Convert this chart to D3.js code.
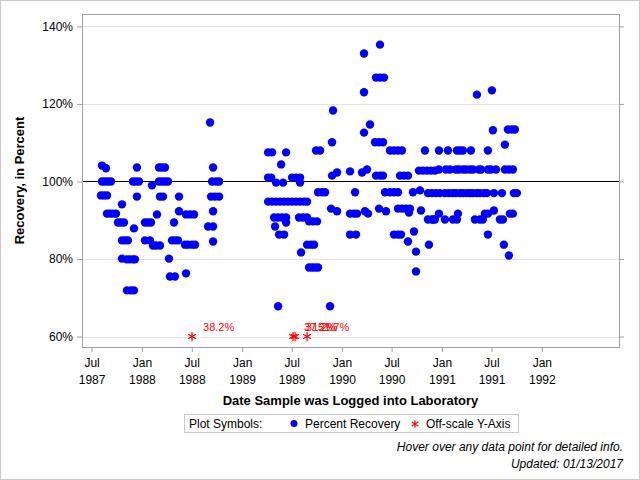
<!DOCTYPE html>
<html>
<head>
<meta charset="utf-8">
<script src="https://cdn.jsdelivr.net/npm/d3@7"></script>
<style>
  body { margin: 0; background: #fff; }
  svg { display: block; font-family: "Liberation Sans", Arial, sans-serif; }
</style>
</head>
<body>
<div id="chart"></div>
<script>
// sample log date (decimal year) and percent recovery
const samples1987 = [
  [1987.60, 104.1], [1987.64, 103.4],
  [1987.60, 100.0], [1987.63, 100.0], [1987.66, 100.0], [1987.69, 100.0],
  [1987.59, 96.4], [1987.62, 96.4], [1987.65, 96.4],
  [1987.65, 91.7], [1987.68, 91.7], [1987.71, 91.7], [1987.74, 91.7],
  [1987.80, 94.1],
  [1987.76, 89.4], [1987.79, 89.4], [1987.82, 89.4],
  [1987.80, 84.8], [1987.83, 84.8], [1987.86, 84.8],
  [1987.80, 80.1], [1987.85, 79.9], [1987.88, 79.9], [1987.91, 79.9], [1987.93, 79.9],
  [1987.85, 71.9], [1987.89, 71.9], [1987.92, 71.9],
  [1987.95, 103.6], [1987.91, 100.0], [1987.94, 100.0], [1987.97, 100.0],
  [1987.95, 96.1], [1987.92, 87.9]
];

const samples1988 = [
  [1988.03, 89.4], [1988.06, 89.4], [1988.09, 89.4],
  [1988.03, 84.8], [1988.08, 84.8],
  [1988.11, 83.5], [1988.14, 83.5], [1988.18, 83.5],
  [1988.10, 99.0], [1988.15, 91.5],
  [1988.17, 103.6], [1988.20, 103.6], [1988.23, 103.6],
  [1988.17, 100.0], [1988.20, 100.0], [1988.23, 100.0], [1988.26, 100.0],
  [1988.18, 96.1], [1988.21, 96.1],
  [1988.32, 89.4], [1988.30, 84.8], [1988.33, 84.8], [1988.36, 84.8],
  [1988.27, 80.1], [1988.28, 75.5], [1988.33, 75.5],
  [1988.37, 96.1], [1988.37, 92.3],
  [1988.44, 91.5], [1988.48, 91.5], [1988.52, 91.5],
  [1988.43, 83.7], [1988.46, 83.7], [1988.50, 83.7], [1988.53, 83.7],
  [1988.44, 76.3],
  [1988.68, 115.2], [1988.71, 103.6],
  [1988.70, 100.0], [1988.74, 100.0], [1988.77, 100.0],
  [1988.69, 96.1], [1988.73, 96.1], [1988.77, 96.1],
  [1988.71, 92.3], [1988.66, 88.4], [1988.71, 88.4], [1988.71, 84.5]
];

const samples1989 = [
  [1989.26, 107.5], [1989.30, 107.5], [1989.44, 107.5], [1989.39, 104.4],
  [1989.26, 101.0], [1989.29, 101.0], [1989.34, 99.7], [1989.41, 99.7],
  [1989.50, 101.0], [1989.54, 101.0], [1989.58, 101.0], [1989.58, 99.7],
  [1989.26, 94.8], [1989.30, 94.8], [1989.34, 94.8], [1989.38, 94.8], [1989.42, 94.8], [1989.46, 94.8],
  [1989.50, 94.8], [1989.54, 94.8], [1989.58, 94.8], [1989.62, 94.8], [1989.65, 94.8],
  [1989.32, 90.7], [1989.36, 90.7], [1989.40, 90.7], [1989.44, 90.7],
  [1989.44, 89.4], [1989.33, 88.4], [1989.37, 86.3], [1989.42, 86.3],
  [1989.57, 90.7], [1989.61, 90.7], [1989.65, 90.7],
  [1989.67, 89.7], [1989.71, 89.7], [1989.75, 89.7],
  [1989.59, 81.7], [1989.65, 83.7], [1989.69, 83.7], [1989.72, 83.7],
  [1989.67, 77.8], [1989.70, 77.8], [1989.73, 77.8], [1989.76, 77.8],
  [1989.74, 108.0], [1989.78, 108.0],
  [1989.76, 97.2], [1989.80, 97.2], [1989.83, 97.2],
  [1989.90, 110.1], [1989.91, 118.3], [1989.90, 101.5], [1989.95, 102.3],
  [1989.89, 93.0], [1989.95, 92.3],
  [1989.36, 67.8], [1989.88, 67.8]
];

const samples1990 = [
  [1990.08, 102.6], [1990.13, 97.2],
  [1990.08, 91.7], [1990.12, 91.7], [1990.15, 91.7],
  [1990.08, 86.3], [1990.14, 86.3],
  [1990.20, 102.3], [1990.25, 103.1],
  [1990.22, 123.0], [1990.22, 133.0], [1990.22, 112.6], [1990.28, 114.7],
  [1990.23, 92.3], [1990.26, 91.7],
  [1990.33, 110.1], [1990.37, 110.1], [1990.41, 110.1],
  [1990.34, 126.8], [1990.38, 126.8], [1990.42, 126.8], [1990.38, 135.3],
  [1990.34, 101.5], [1990.38, 101.5], [1990.41, 101.5],
  [1990.37, 93.0], [1990.44, 92.3],
  [1990.43, 97.2], [1990.48, 97.2], [1990.52, 97.2], [1990.56, 97.2],
  [1990.48, 108.0], [1990.52, 108.0], [1990.56, 108.0], [1990.60, 108.0],
  [1990.58, 101.5], [1990.62, 101.5], [1990.66, 101.5],
  [1990.56, 93.0], [1990.60, 93.0], [1990.64, 93.0], [1990.68, 93.0], [1990.67, 92.0],
  [1990.52, 86.3], [1990.56, 86.3], [1990.59, 86.3],
  [1990.72, 87.1], [1990.66, 84.5], [1990.74, 81.9], [1990.74, 76.8],
  [1990.71, 97.2], [1990.78, 97.7], [1990.79, 92.5],
  [1990.83, 108.0],
  [1990.77, 102.8], [1990.81, 102.8], [1990.85, 102.8], [1990.89, 102.8], [1990.93, 102.8],
  [1990.86, 97.0], [1990.90, 97.0], [1990.94, 97.0],
  [1990.86, 90.2], [1990.90, 90.2], [1990.93, 90.2],
  [1990.87, 83.7], [1990.97, 108.0], [1990.97, 91.7], [1990.97, 103.1], [1990.98, 97.0]
];

const samples1991 = [
  [1991.06, 108.0], [1991.15, 108.0], [1991.18, 108.0], [1991.21, 108.0], [1991.29, 108.0], [1991.46, 108.0],
  [1991.04, 103.1], [1991.08, 103.1], [1991.14, 103.1], [1991.17, 103.1], [1991.21, 103.1],
  [1991.24, 103.1], [1991.28, 103.1], [1991.31, 103.1], [1991.37, 103.1], [1991.39, 103.1],
  [1991.46, 103.1], [1991.49, 103.1], [1991.54, 103.1], [1991.63, 103.1], [1991.67, 103.1], [1991.71, 103.1],
  [1991.03, 97.0], [1991.07, 97.0], [1991.11, 97.0], [1991.14, 97.0], [1991.18, 97.0], [1991.21, 97.0],
  [1991.25, 97.0], [1991.28, 97.0], [1991.31, 97.0], [1991.35, 97.0], [1991.38, 97.0], [1991.42, 97.0],
  [1991.45, 97.0], [1991.52, 97.0], [1991.60, 97.0], [1991.72, 97.0], [1991.75, 97.0],
  [1990.91, 90.2], [1991.03, 90.2], [1991.11, 90.2], [1991.15, 90.2], [1991.16, 91.7],
  [1991.33, 90.2], [1991.38, 90.2], [1991.41, 90.2], [1991.43, 91.7], [1991.46, 91.7],
  [1991.52, 92.5], [1991.58, 90.2], [1991.61, 90.2], [1991.68, 91.7], [1991.71, 91.7],
  [1991.46, 86.3], [1991.62, 83.7], [1991.67, 80.9],
  [1991.35, 122.4], [1991.50, 123.5], [1991.51, 113.2],
  [1991.66, 113.4], [1991.70, 113.4], [1991.73, 113.4], [1991.63, 109.5]
];

// values below the axis minimum: drawn at the floor with their real value
const offScale = [[1988.50, 38.2], [1989.51, 37.2], [1989.53, 31.2], [1989.65, 51.7]];

const yTicks = [60, 80, 120, 140];
const xTickDates = ["1987-07-01", "1988-01-01", "1988-07-01", "1989-01-01", "1989-07-01",
  "1990-01-01", "1990-07-01", "1991-01-01", "1991-07-01", "1992-01-01"];

const toDate = (yr) => {
  const y0 = Math.floor(yr);
  const start = new Date(y0, 0, 1), end = new Date(y0 + 1, 0, 1);
  return new Date(+start + (yr - y0) * (end - start));
};

const samples = [].concat(samples1987, samples1988, samples1989, samples1990, samples1991);

const width = 640, height = 480;
const plot = { left: 82, right: 619, top: 14, bottom: 347 };

const svg = d3.select("#chart").append("svg")
  .attr("width", width)
  .attr("height", height);

svg.append("rect")
  .attr("x", 0.5).attr("y", 0.5)
  .attr("width", width - 1).attr("height", height - 1)
  .attr("fill", "#fff").attr("stroke", "#c8c8c8");

const x = d3.scaleTime()
  .domain([toDate(1987.40), toDate(1992.77)])
  .range([plot.left, plot.right]);

const y = d3.scaleLinear()
  .domain([57.3, 143.2])
  .range([plot.bottom, plot.top]);

// gridlines
svg.append("g")
  .selectAll("line")
  .data(yTicks)
  .join("line")
  .attr("x1", plot.left).attr("x2", plot.right)
  .attr("y1", d => Math.round(y(d)) + 0.5).attr("y2", d => Math.round(y(d)) + 0.5)
  .attr("stroke", "#e3e3e3");

// 100% reference line
svg.append("line")
  .attr("x1", plot.left).attr("x2", plot.right)
  .attr("y1", Math.round(y(100)) + 0.5).attr("y2", Math.round(y(100)) + 0.5)
  .attr("stroke", "#000");

// y axis (left + right ticks)
const yAxis = svg.append("g")
  .attr("transform", `translate(${plot.left},0)`)
  .call(d3.axisLeft(y).tickValues([60, 80, 100, 120, 140]).tickFormat(d => d + "%").tickSize(5).tickSizeOuter(0));
yAxis.select(".domain").remove();
yAxis.selectAll("line").attr("stroke", "#a0a0a0");
yAxis.selectAll("text").attr("font-size", 12).attr("fill", "#000").attr("x", -9);

const yAxisR = svg.append("g")
  .attr("transform", `translate(${plot.right},0)`)
  .call(d3.axisRight(y).tickValues([60, 80, 100, 120, 140]).tickFormat("").tickSize(5).tickSizeOuter(0));
yAxisR.select(".domain").remove();
yAxisR.selectAll("line").attr("stroke", "#a0a0a0");

// x axis
const xAxis = svg.append("g")
  .attr("transform", `translate(0,${plot.bottom})`)
  .call(d3.axisBottom(x).tickValues(xTickDates.map(d => d3.timeParse("%Y-%m-%d")(d))).tickFormat("").tickSize(5).tickSizeOuter(0));
xAxis.select(".domain").remove();
xAxis.selectAll("line").attr("stroke", "#a0a0a0");
xAxis.selectAll(".tick").append("text")
  .attr("text-anchor", "middle")
  .attr("fill", "#000")
  .attr("font-size", 12)
  .call(t => {
    t.append("tspan").attr("x", 0).attr("y", 20).text(d => d3.timeFormat("%b")(d));
    t.append("tspan").attr("x", 0).attr("y", 37).text(d => d3.timeFormat("%Y")(d));
  });

// plot frame
svg.append("rect")
  .attr("x", plot.left + 0.5).attr("y", plot.top + 0.5)
  .attr("width", plot.right - plot.left).attr("height", plot.bottom - plot.top)
  .attr("fill", "none").attr("stroke", "#a0a0a0");

// sample points
svg.append("g")
  .selectAll("circle")
  .data(samples)
  .join("circle")
  .attr("cx", d => x(toDate(d[0])))
  .attr("cy", d => y(d[1]))
  .attr("r", 4.2)
  .attr("fill", "#0000ff")
  .append("title")
  .text(d => `${d3.timeFormat("%m/%d/%Y")(toDate(d[0]))}: ${d[1]}%`);

// off-scale points
const star = d3.symbol(d3.symbolAsterisk, 60);
const off = svg.append("g").selectAll("g")
  .data(offScale)
  .join("g")
  .attr("transform", d => `translate(${x(toDate(d[0]))},${y(60)})`);
off.append("path")
  .attr("d", star)
  .attr("fill", "none")
  .attr("stroke", "#ff0000")
  .attr("stroke-width", 1.2);
off.append("text")
  .attr("x", 11).attr("y", -6)
  .attr("font-size", 11)
  .attr("fill", "#ff0000")
  .text(d => d[1] + "%");

// axis labels
svg.append("text")
  .attr("x", (plot.left + plot.right) / 2).attr("y", 405)
  .attr("text-anchor", "middle")
  .attr("font-size", 13).attr("font-weight", "bold")
  .text("Date Sample was Logged into Laboratory");

svg.append("text")
  .attr("transform", `translate(24,${(plot.top + plot.bottom) / 2}) rotate(-90)`)
  .attr("text-anchor", "middle")
  .attr("font-size", 13).attr("font-weight", "bold")
  .text("Recovery, in Percent");

// legend
const legend = svg.append("g");
legend.append("rect")
  .attr("x", 184.5).attr("y", 414.5)
  .attr("width", 334).attr("height", 18)
  .attr("fill", "none").attr("stroke", "#c8c8c8");
legend.append("text").attr("x", 189).attr("y", 428).attr("font-size", 12).text("Plot Symbols:");
legend.append("circle").attr("cx", 294).attr("cy", 423.5).attr("r", 3.5).attr("fill", "#0000ff");
legend.append("text").attr("x", 305).attr("y", 428).attr("font-size", 12).text("Percent Recovery");
legend.append("path")
  .attr("transform", "translate(415,424)")
  .attr("d", d3.symbol(d3.symbolAsterisk, 40))
  .attr("fill", "none").attr("stroke", "#ff0000").attr("stroke-width", 1.2);
legend.append("text").attr("x", 426).attr("y", 428).attr("font-size", 12).text("Off-scale Y-Axis");

// footnotes
svg.append("text")
  .attr("x", 623).attr("y", 451)
  .attr("text-anchor", "end").attr("font-size", 12).attr("font-style", "italic")
  .text("Hover over any data point for detailed info.");
svg.append("text")
  .attr("x", 623).attr("y", 468)
  .attr("text-anchor", "end").attr("font-size", 12).attr("font-style", "italic")
  .text("Updated: 01/13/2017");
</script>
</body>
</html>
